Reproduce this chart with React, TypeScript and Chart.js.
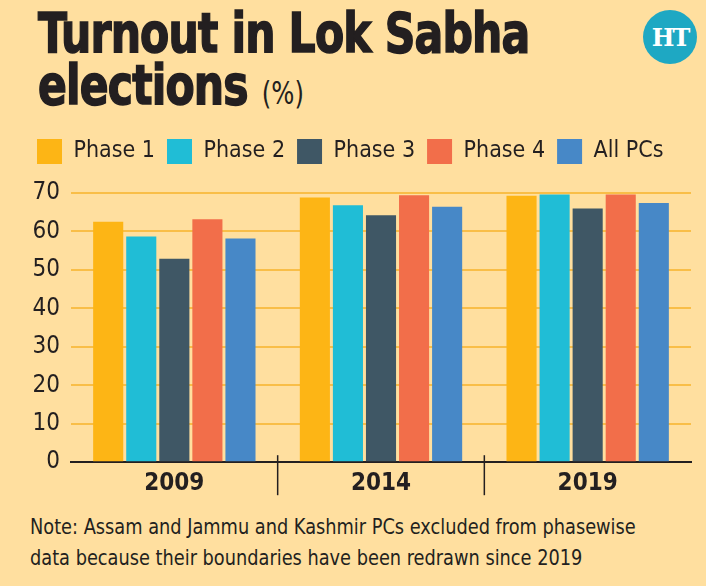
import React, { useEffect, useRef } from 'react';
import { Chart, registerables } from 'chart.js';

Chart.register(...registerables);

// ---- data ----
const years = ['2009', '2014', '2019'];
const seriesNames = ['Phase 1', 'Phase 2', 'Phase 3', 'Phase 4', 'All PCs'];
const phase1 = [62.5, 68.8, 69.3];
const phase2 = [58.7, 66.8, 69.6];
const phase3 = [52.9, 64.2, 66.0];
const phase4 = [63.2, 69.4, 69.6];
const allPCs = [58.2, 66.4, 67.4];
const yMin = 0;
const yMax = 70;
const yStep = 10;

const seriesColors = ['#FDB515', '#20BDD6', '#3F5765', '#F26E4A', '#4788C7'];
const BG = '#FFDF9F';
const GRID = '#F9BE48';
const INK = '#231F20';
const NARROW = '"Liberation Sans Narrow", "DejaVu Sans Condensed", "Roboto Condensed", "Open Sans Condensed", "Noto Sans", sans-serif';

const separators = {
  id: 'separators',
  afterDraw(chart: any) {
    const x = chart.scales.x;
    const area = chart.chartArea;
    const ctx = chart.ctx;
    ctx.save();
    ctx.strokeStyle = INK;
    ctx.lineWidth = 1.5;
    for (let i = 1; i < years.length; i++) {
      const px = (x.getPixelForValue(i - 1) + x.getPixelForValue(i)) / 2;
      ctx.beginPath();
      ctx.moveTo(px, area.bottom - 7);
      ctx.lineTo(px, area.bottom + 33);
      ctx.stroke();
    }
    ctx.restore();
  },
};

const legendGap = {
  id: 'legendGap',
  beforeInit(chart: any) {
    const legend = chart.legend;
    if (!legend) return;
    const fit = legend.fit;
    legend.fit = function () {
      fit.call(this);
      this.height += 19;
    };
  },
};

export default function App() {
  const ref = useRef<HTMLCanvasElement>(null);

  useEffect(() => {
    const values = [phase1, phase2, phase3, phase4, allPCs];
    const chart = new Chart(ref.current!, {
      type: 'bar',
      data: {
        labels: years,
        datasets: seriesNames.map((name, i) => ({
          label: name,
          data: values[i],
          backgroundColor: seriesColors[i],
          borderWidth: 0,
          categoryPercentage: 0.8,
          barPercentage: 0.91,
        })),
      },
      options: {
        animation: false,
        responsive: true,
        maintainAspectRatio: false,
        layout: { padding: { left: 25, right: 15, top: 0, bottom: 0 } },
        plugins: {
          tooltip: { enabled: false },
          legend: {
            position: 'top',
            align: 'start',
            labels: {
              boxWidth: 25,
              boxHeight: 25,
              padding: 12,
              color: INK,
              font: { family: NARROW, size: 23 },
            },
          },
        },
        scales: {
          x: {
            grid: { display: false, drawTicks: false },
            border: { display: true, color: INK, width: 2 },
            ticks: {
              color: INK,
              padding: 7,
              font: { family: NARROW, size: 24, weight: 'bold' },
            },
          },
          y: {
            min: yMin,
            max: yMax,
            afterFit: (s: any) => { s.width = 46; },
            grid: {
              drawTicks: false,
              lineWidth: 2,
              color: (c: any) => (c.tick && c.tick.value === 0 ? 'rgba(0,0,0,0)' : GRID),
            },
            border: { display: false },
            ticks: {
              stepSize: yStep,
              padding: 11,
              color: INK,
              font: { family: NARROW, size: 24 },
            },
          },
        },
      },
      plugins: [separators, legendGap],
    });
    return () => chart.destroy();
  }, []);

  return (
    <div style={{ position: 'fixed', left: 0, top: 0, width: 706, height: 586, background: BG, overflow: 'hidden', fontFamily: NARROW, color: INK }}>
      <div style={{ position: 'absolute', left: 38, top: 7, fontSize: 56, fontWeight: 'bold', lineHeight: '52px', letterSpacing: -1, whiteSpace: 'nowrap', transform: 'scaleX(0.845)', transformOrigin: '0 0', WebkitTextStroke: '1.5px #231F20' }}>
        <div>Turnout in Lok Sabha</div>
        <div>elections <span style={{ fontWeight: 'normal', fontSize: 32, letterSpacing: 0, WebkitTextStroke: '0px' }}>(%)</span></div>
      </div>
      <div style={{ position: 'absolute', left: 643, top: 10, width: 54, height: 54, borderRadius: '50%', background: '#1EA8C3', color: '#fff', display: 'flex', alignItems: 'center', justifyContent: 'center', fontFamily: '"DejaVu Serif", serif', fontWeight: 'bold', fontSize: 24, letterSpacing: -2 }}>
        HT
      </div>
      <div style={{ position: 'absolute', left: 0, top: 127, width: 706, height: 378 }}>
        <canvas ref={ref} />
      </div>
      <div style={{ position: 'absolute', left: 30, top: 512, fontSize: 21, lineHeight: '31px', whiteSpace: 'nowrap', transform: 'scaleX(0.94)', transformOrigin: '0 0' }}>
        <div>Note: Assam and Jammu and Kashmir PCs excluded from phasewise</div>
        <div>data because their boundaries have been redrawn since 2019</div>
      </div>
    </div>
  );
}
